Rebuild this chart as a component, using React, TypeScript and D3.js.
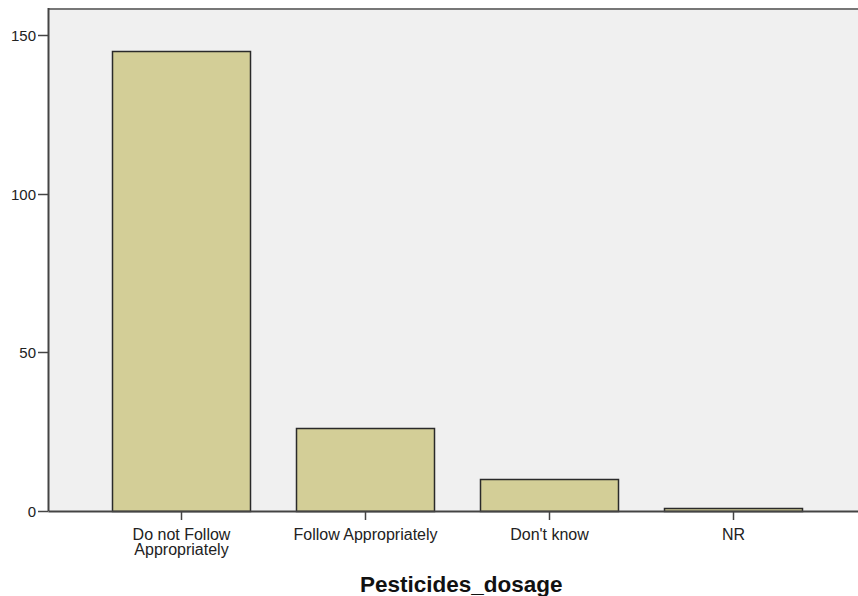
import React, { useEffect, useRef } from "react";
import * as d3 from "d3";

const categories: string[][] = [
  ["Do not Follow", "Appropriately"],
  ["Follow Appropriately"],
  ["Don't know"],
  ["NR"],
];
const counts: number[] = [145, 26, 10, 1];
const yTicks: number[] = [0, 50, 100, 150];
const xTitle = "Pesticides_dosage";

const W = 858;
const H = 596;

export default function App() {
  const ref = useRef<SVGSVGElement>(null);
  useEffect(() => {
    const svg = d3.select(ref.current);
    svg.selectAll("*").remove();
    const left = 48.5;
    const right = 858;
    const top = 9;
    const bottom = 511;
    const keys = categories.map((c) => c.join(" "));
    const x = d3.scaleBand<string>().domain(keys).range([89, 825]).paddingInner(0.25).paddingOuter(0.125);
    const y = d3.scaleLinear().domain([0, 158.2]).range([bottom, top]);

    svg.append("rect").attr("x", left).attr("y", top).attr("width", right - left).attr("height", bottom - top).attr("fill", "#f0f0f0");

    svg
      .selectAll("rect.bar")
      .data(counts)
      .enter()
      .append("rect")
      .attr("class", "bar")
      .attr("x", (_d, i) => (x(keys[i]) as number) + 0.5)
      .attr("y", (d) => Math.round(y(d)) + 0.5)
      .attr("width", x.bandwidth())
      .attr("height", (d) => bottom - Math.round(y(d)))
      .attr("fill", "#d3ce97")
      .attr("stroke", "#2a2a2a")
      .attr("stroke-width", 1.5);

    // top border
    svg.append("line").attr("x1", left).attr("x2", right).attr("y1", top).attr("y2", top).attr("stroke", "#777").attr("stroke-width", 2);
    // y axis line
    svg.append("line").attr("x1", left).attr("x2", left).attr("y1", top - 1).attr("y2", bottom).attr("stroke", "#444").attr("stroke-width", 2);
    // x axis line
    svg.append("line").attr("x1", left).attr("x2", right).attr("y1", bottom + 0.5).attr("y2", bottom + 0.5).attr("stroke", "#444").attr("stroke-width", 2);

    const yg = svg.append("g");
    yTicks.forEach((t) => {
      const yy = Math.round(y(t)) + 0.5;
      yg.append("line").attr("x1", 38).attr("x2", left).attr("y1", yy).attr("y2", yy).attr("stroke", "#444").attr("stroke-width", 1.5);
      yg.append("text")
        .attr("x", 36)
        .attr("y", yy)
        .attr("dy", "0.35em")
        .attr("text-anchor", "end")
        .attr("font-family", "Liberation Sans, Arial, sans-serif")
        .attr("font-size", 15)
        .attr("fill", "#222")
        .text(String(t));
    });

    const xg = svg.append("g");
    categories.forEach((lines, i) => {
      const cx = Math.round((x(keys[i]) as number) + x.bandwidth() / 2) + 0.5;
      xg.append("line").attr("x1", cx).attr("x2", cx).attr("y1", bottom).attr("y2", bottom + 9).attr("stroke", "#444").attr("stroke-width", 1.5);
      const txt = xg
        .append("text")
        .attr("text-anchor", "middle")
        .attr("font-family", "Liberation Sans, Arial, sans-serif")
        .attr("font-size", 16)
        .attr("fill", "#222");
      lines.forEach((ln, j) => {
        txt.append("tspan").attr("x", cx).attr("y", 540 + j * 15).text(ln);
      });
    });

    svg
      .append("text")
      .attr("x", (left + right) / 2 + 8)
      .attr("y", 592)
      .attr("text-anchor", "middle")
      .attr("font-family", "Liberation Sans, Arial, sans-serif")
      .attr("font-weight", "bold")
      .attr("font-size", 22.5)
      .attr("fill", "#111")
      .text(xTitle);
  }, []);
  return (
    <svg
      ref={ref}
      width={W}
      height={H}
      style={{ position: "absolute", left: 0, top: 0, background: "#fff" }}
    />
  );
}
